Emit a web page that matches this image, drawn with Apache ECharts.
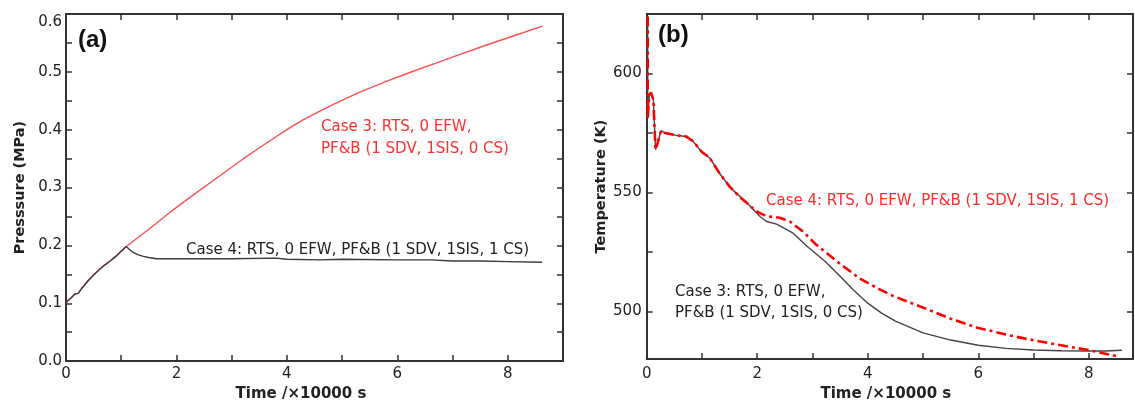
<!DOCTYPE html>
<html>
<head>
<meta charset="utf-8">
<script src="https://cdn.jsdelivr.net/npm/echarts@6/dist/echarts.min.js"></script>
<style>
  html, body { margin: 0; padding: 0; background: #fff; }
  #chart { width: 1135px; height: 407px; }
</style>
</head>
<body>
<div id="chart"></div>
<script>
// ---------- (a) pressure, time in units of 10000 s ----------
const pCase3Time = [0.01, 0.1, 0.16, 0.22, 0.28, 0.4, 0.5, 0.6, 0.7, 0.8, 0.9, 1.0, 1.09, 1.5, 1.88, 2.3, 2.78, 3.2, 3.68, 4.0, 4.29, 4.6, 4.89, 5.3, 5.79, 6.2, 6.7, 7.1, 7.6, 8.1, 8.63];
const pCase3Val  = [0.102, 0.11, 0.116, 0.117, 0.125, 0.139, 0.149, 0.158, 0.166, 0.173, 0.181, 0.19, 0.198, 0.228, 0.257, 0.287, 0.32, 0.349, 0.38, 0.4, 0.417, 0.432, 0.446, 0.464, 0.483, 0.498, 0.515, 0.529, 0.546, 0.562, 0.579];
const pCase4Time = [0.01, 0.1, 0.16, 0.22, 0.28, 0.4, 0.5, 0.6, 0.7, 0.8, 0.9, 1.0, 1.09, 1.15, 1.2, 1.3, 1.4, 1.5, 1.64, 2.17, 3.0, 3.8, 4.0, 4.6, 5.0, 6.0, 6.6, 7.0, 7.5, 8.0, 8.62];
const pCase4Val  = [0.102, 0.11, 0.116, 0.117, 0.125, 0.139, 0.149, 0.158, 0.166, 0.173, 0.181, 0.19, 0.198, 0.193, 0.189, 0.184, 0.181, 0.179, 0.177, 0.177, 0.177, 0.178, 0.176, 0.175, 0.176, 0.175, 0.175, 0.173, 0.173, 0.172, 0.171];

// ---------- (b) temperature ----------
const tCase3Time = [0.018, 0.018, 0.047, 0.078, 0.12, 0.16, 0.2, 0.26, 0.33, 0.54, 0.72, 0.84, 1.0, 1.14, 1.32, 1.5, 1.56, 1.8, 2.05, 2.17, 2.35, 2.65, 2.9, 3.23, 3.5, 3.75, 4.0, 4.25, 4.5, 5.0, 5.5, 6.0, 6.5, 7.0, 7.5, 8.0, 8.3, 8.6];
const tCase3Val  = [624, 581, 591, 592, 589, 568, 571, 576, 575, 574, 573.5, 571.5, 567, 564.5, 558, 552.5, 551, 546, 539.9, 537.8, 536.7, 532.9, 527.4, 521, 514.8, 508.8, 503.5, 499.3, 496, 491, 488, 485.8, 484.5, 483.8, 483.5, 483.4, 483.4, 483.7];
const tCase4Time = [0.018, 0.018, 0.047, 0.078, 0.12, 0.16, 0.2, 0.26, 0.33, 0.54, 0.72, 0.84, 1.0, 1.14, 1.32, 1.5, 1.69, 1.99, 2.17, 2.41, 2.59, 2.83, 3.07, 3.5, 3.86, 4.2, 4.46, 5.07, 5.5, 5.97, 6.5, 6.87, 7.5, 7.97, 8.5];
const tCase4Val  = [624, 581, 591, 592, 589, 568, 571, 576, 575, 574, 573.5, 571.5, 567, 564.5, 558, 552.5, 548, 542, 540, 539.4, 537.8, 533.6, 528, 520, 513.8, 509.5, 506.5, 501, 497, 493.3, 490.3, 488.5, 485.8, 483.9, 481.3];

// ---------- tick values ----------
const timeTicksA  = [0, 1, 2, 3, 4, 5, 6, 7, 8, 9];
const timeTicksB  = [0, 1, 2, 3, 4, 5, 6, 7, 8];
const timeLabels  = [0, 2, 4, 6, 8];
const presTicks   = [0, 0.05, 0.1, 0.15, 0.2, 0.25, 0.3, 0.35, 0.4, 0.45, 0.5, 0.55, 0.6];
const presLabels  = [0, 0.1, 0.2, 0.3, 0.4, 0.5, 0.6];
const tempTicks   = [500, 525, 550, 575, 600, 625];
const tempLabels  = [500, 550, 600];

const pairs = (xs, ys) => xs.map((x, i) => [x, ys[i]]);

const FONT = '"DejaVu Sans", Verdana, sans-serif';
const FRAME = '#333333';
const INK = '#222222';

function axisBase(gridIndex, min, max, ticks, labels, showLabels, position) {
  return {
    type: 'value', gridIndex, min, max, position,
    axisLine: { show: true, onZero: false, lineStyle: { color: FRAME, width: 2 } },
    axisTick: { show: true, inside: true, length: 6, customValues: ticks, lineStyle: { color: FRAME, width: 1.5 } },
    axisLabel: showLabels
      ? { show: true, customValues: labels, color: INK, fontFamily: FONT, fontSize: 15, margin: 6 }
      : { show: false },
    splitLine: { show: false }
  };
}

const xA = axisBase(0, 0, 9, timeTicksA, timeLabels, true, 'bottom');
Object.assign(xA, { name: 'Time /×10000 s', nameLocation: 'middle', nameGap: 23,
  nameTextStyle: { fontFamily: FONT, fontSize: 15, fontWeight: 'bold', color: INK, padding: [0, 27, 0, 0] } });
const xATop = axisBase(0, 0, 9, timeTicksA, timeLabels, false, 'top');

const xB = axisBase(1, 0, 8.8, timeTicksB, timeLabels, true, 'bottom');
xB.axisLabel.margin = 8;
Object.assign(xB, { name: 'Time /×10000 s', nameLocation: 'middle', nameGap: 26,
  nameTextStyle: { fontFamily: FONT, fontSize: 15, fontWeight: 'bold', color: INK, padding: [0, 8, 0, 0] } });
const xBTop = axisBase(1, 0, 8.8, timeTicksB, timeLabels, false, 'top');

const yA = axisBase(0, 0, 0.6, presTicks, presLabels, true, 'left');
yA.axisLabel.margin = 4;
yA.axisLabel.formatter = v => (Math.abs(v - 0.6) < 1e-9 ? '{top|0.6}' : v.toFixed(1));
yA.axisLabel.rich = { top: { fontFamily: FONT, fontSize: 15, color: INK, padding: [16, 0, 0, 0] } };
Object.assign(yA, { name: 'Presssure (MPa)', nameLocation: 'middle', nameGap: 38,
  nameTextStyle: { fontFamily: FONT, fontSize: 14.5, fontWeight: 'bold', color: INK } });
const yARight = axisBase(0, 0, 0.6, presTicks, presLabels, false, 'right');

const yB = axisBase(1, 480, 625, tempTicks, tempLabels, true, 'left');
yB.axisLabel.margin = 5;
Object.assign(yB, { name: 'Temperature (K)', nameLocation: 'middle', nameGap: 35,
  nameTextStyle: { fontFamily: FONT, fontSize: 14.5, fontWeight: 'bold', color: INK } });
const yBRight = axisBase(1, 480, 625, tempTicks, tempLabels, false, 'right');

const chart = echarts.init(document.getElementById('chart'), null, { renderer: 'canvas' });

chart.setOption({
  animation: false,
  backgroundColor: '#ffffff',
  grid: [
    { left: 66, top: 14, width: 497, height: 352.7 },
    { left: 646.7, top: 14, width: 486.3, height: 347.7 }
  ],
  xAxis: [xA, xATop, xB, xBTop],
  yAxis: [yA, yARight, yB, yBRight],
  series: [
    {
      name: 'Case 3 pressure', type: 'line', xAxisIndex: 0, yAxisIndex: 0,
      data: pairs(pCase3Time, pCase3Val), showSymbol: false, symbol: 'none',
      lineStyle: { color: '#ff5050', width: 1.4 }
    },
    {
      name: 'Case 4 pressure', type: 'line', xAxisIndex: 0, yAxisIndex: 0,
      data: pairs(pCase4Time, pCase4Val), showSymbol: false, symbol: 'none',
      lineStyle: { color: '#3a3a3a', width: 1.4 }
    },
    {
      name: 'Case 3 temperature', type: 'line', xAxisIndex: 2, yAxisIndex: 2,
      data: pairs(tCase3Time, tCase3Val), showSymbol: false, symbol: 'none',
      lineStyle: { color: '#444444', width: 1.4 }
    },
    {
      name: 'Case 4 temperature', type: 'line', xAxisIndex: 2, yAxisIndex: 2,
      data: pairs(tCase4Time, tCase4Val), showSymbol: false, symbol: 'none',
      lineStyle: { color: '#ff0000', width: 2.6, type: [10, 4, 3, 4] }
    }
  ],
  graphic: [
    { type: 'text', x: 78, y: 40, style: { text: '(a)', font: 'bold 24px "Liberation Sans", Arial, sans-serif', fill: '#111', verticalAlign: 'middle' } },
    { type: 'text', x: 658, y: 35, style: { text: '(b)', font: 'bold 24px "Liberation Sans", Arial, sans-serif', fill: '#111', verticalAlign: 'middle' } },
    { type: 'text', x: 321, y: 127, style: { text: 'Case 3: RTS, 0 EFW,', font: '15px ' + FONT, fill: '#ff3030', verticalAlign: 'middle' } },
    { type: 'text', x: 321, y: 149, style: { text: 'PF&B (1 SDV, 1SIS, 0 CS)', font: '15px ' + FONT, fill: '#ff3030', verticalAlign: 'middle' } },
    { type: 'text', x: 186, y: 250, style: { text: 'Case 4: RTS, 0 EFW, PF&B (1 SDV, 1SIS, 1 CS)', font: '15px ' + FONT, fill: INK, verticalAlign: 'middle' } },
    { type: 'text', x: 766, y: 201, style: { text: 'Case 4: RTS, 0 EFW, PF&B (1 SDV, 1SIS, 1 CS)', font: '15px ' + FONT, fill: '#ff2a2a', verticalAlign: 'middle' } },
    { type: 'text', x: 675, y: 292, style: { text: 'Case 3: RTS, 0 EFW,', font: '15px ' + FONT, fill: INK, verticalAlign: 'middle' } },
    { type: 'text', x: 675, y: 313, style: { text: 'PF&B (1 SDV, 1SIS, 0 CS)', font: '15px ' + FONT, fill: INK, verticalAlign: 'middle' } }
  ]
});
</script>
</body>
</html>
